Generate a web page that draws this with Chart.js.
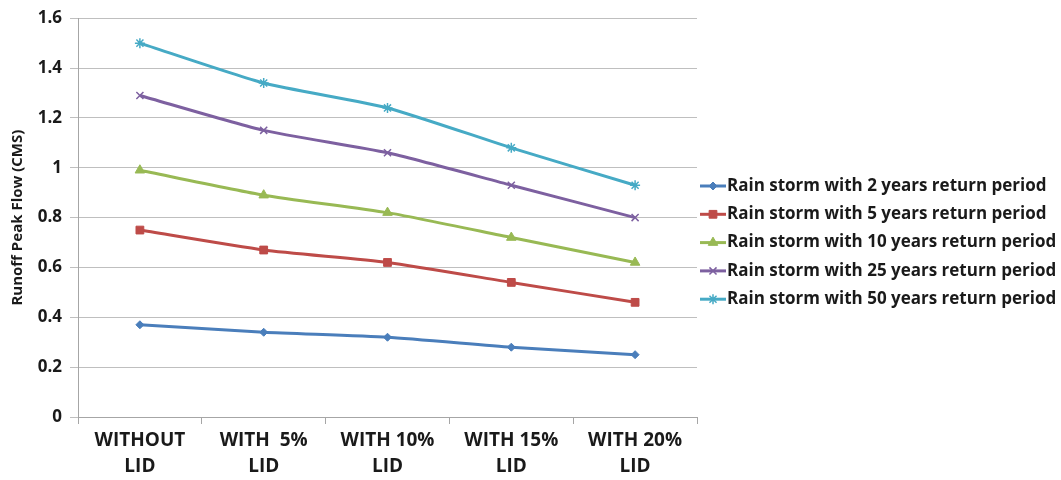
<!DOCTYPE html>
<html>
<head>
<meta charset="utf-8">
<script src="https://cdn.jsdelivr.net/npm/chart.js@4.4.0/dist/chart.umd.min.js"></script>
<style>
  html, body { margin: 0; padding: 0; background: #fff; }
  #wrap { width: 1061px; height: 480px; }
</style>
</head>
<body>
<div id="wrap"><canvas id="c" width="1061" height="480"></canvas></div>
<script>
const categories = [["WITHOUT", "LID"], ["WITH  5%", "LID"], ["WITH 10%", "LID"], ["WITH 15%", "LID"], ["WITH 20%", "LID"]];
const seriesNames = [
  "Rain storm with 2 years return period",
  "Rain storm with 5 years return period",
  "Rain storm with 10 years return period",
  "Rain storm with 25 years return period",
  "Rain storm with 50 years return period"
];
const storm2 = [0.37, 0.34, 0.32, 0.28, 0.25];
const storm5 = [0.75, 0.67, 0.62, 0.54, 0.46];
const storm10 = [0.99, 0.89, 0.82, 0.72, 0.62];
const storm25 = [1.29, 1.15, 1.06, 0.93, 0.80];
const storm50 = [1.50, 1.34, 1.24, 1.08, 0.93];
const yTickLabels = ["0", "0.2", "0.4", "0.6", "0.8", "1", "1.2", "1.4", "1.6"];
const yRange = { min: 0, max: 1.6, step: 0.2 };

const colors = ["#4a7ebb", "#be4b48", "#98b954", "#7d60a0", "#46aac5"];
const markers = ["rectRot", "rect", "triangle", "crossRot", "star"];
const markerSizes = [4, 5.5, 5.5, 5, 5];
const values = [storm2, storm5, storm10, storm25, storm50];

const FONT = "'Open Sans', Lato, sans-serif";

const datasets = values.map((v, i) => ({
  label: seriesNames[i],
  data: v,
  borderColor: colors[i],
  backgroundColor: colors[i],
  borderWidth: 3,
  pointStyle: markers[i],
  pointRadius: markerSizes[i],
  pointBorderWidth: markers[i] === 'crossRot' || markers[i] === 'star' ? 1.5 : 1,
  pointBorderColor: colors[i],
  pointBackgroundColor: colors[i],
  tension: 0.2,
  fill: false
}));

// legend on the right: short line with the series marker, then the name
const sideLegend = {
  id: 'sideLegend',
  afterDraw(chart) {
    const ctx = chart.ctx;
    const x0 = 700, x1 = 726, yStart = 186, gap = 28.3;
    ctx.save();
    chart.data.datasets.forEach((ds, i) => {
      const y = yStart + i * gap;
      ctx.strokeStyle = ds.borderColor;
      ctx.lineWidth = 3;
      ctx.beginPath();
      ctx.moveTo(x0, y);
      ctx.lineTo(x1, y);
      ctx.stroke();
      ctx.fillStyle = ds.backgroundColor;
      ctx.lineWidth = ds.pointBorderWidth;
      Chart.helpers.drawPoint(ctx, {
        pointStyle: ds.pointStyle,
        radius: ds.pointRadius,
        rotation: 0,
        borderWidth: ds.pointBorderWidth
      }, (x0 + x1) / 2, y);
      ctx.fillStyle = '#1a1a1a';
      ctx.font = "bold 17px " + FONT;
      ctx.textBaseline = 'middle';
      ctx.textAlign = 'left';
      ctx.fillText(ds.label, x1 + 1, y);
    });
    ctx.restore();
  }
};

new Chart(document.getElementById('c'), {
  type: 'line',
  data: { labels: categories, datasets },
  plugins: [sideLegend],
  options: {
    responsive: false,
    animation: false,
    devicePixelRatio: 1,
    layout: { padding: { top: 7, right: 364, left: 0, bottom: 0 } },
    plugins: {
      legend: { display: false },
      tooltip: { enabled: false }
    },
    scales: {
      x: {
        offset: true,
        grid: { display: true, drawOnChartArea: false, offset: true, tickLength: 7, color: '#a6a6a6' },
        border: { color: '#a6a6a6', width: 1 },
        ticks: { color: '#1a1a1a', font: { family: FONT, size: 19, weight: 'bold', lineHeight: 1.4 }, maxRotation: 0, padding: 3 },
        afterFit(scale) { scale.height = 63; }
      },
      y: {
        min: yRange.min,
        max: yRange.max,
        ticks: {
          stepSize: yRange.step,
          color: '#1a1a1a',
          font: { family: FONT, size: 17, weight: 'bold' },
          padding: 8,
          callback: (v, i) => yTickLabels[i]
        },
        grid: { color: '#bfbfbf', tickLength: 8 },
        border: { color: '#a6a6a6', width: 1 },
        title: { display: true, text: 'Runoff Peak Flow (CMS)', color: '#1a1a1a', font: { family: FONT, size: 15, weight: 'bold' }, padding: { top: 9, bottom: 0 } },
        afterFit(scale) { scale.width = 78; }
      }
    }
  }
});
</script>
</body>
</html>
